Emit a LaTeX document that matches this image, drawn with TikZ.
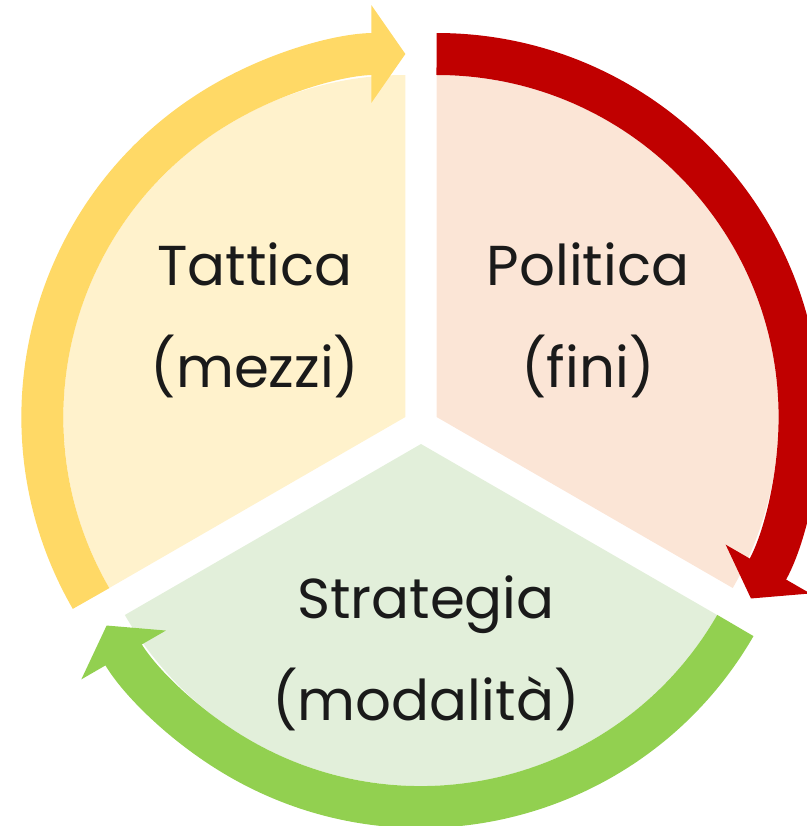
\documentclass[tikz,border=0pt]{standalone}
\usepackage{fontspec}
\setmainfont{Poppins}
\usepackage{tikz}
\usetikzlibrary{arrows.meta,calc}

\definecolor{tatticaband}{HTML}{FFD966}
\definecolor{tatticafill}{HTML}{FFF2CC}
\definecolor{politicaband}{HTML}{C00000}
\definecolor{politicafill}{HTML}{FBE5D6}
\definecolor{strategiaband}{HTML}{92D050}
\definecolor{strategiafill}{HTML}{E2EFDA}
\definecolor{labeltext}{HTML}{1A1A1A}

\begin{document}
\begin{tikzpicture}[x=0.02cm,y=0.02cm,
	sector/.style={draw=none},
	band/.style={line width=0.84cm,line cap=butt,-{Triangle[width=1.92cm,length=0.68cm]}},
	label/.style={text=labeltext,align=center,font=\fontsize{32}{58}\selectfont}]
	\useasboundingbox (-421,-400) rectangle (386,426);
	
	% sectors, pushed out from the centre
	\fill[tatticafill]   (150:18) -- ++(90:342) arc (90:210:342) -- cycle;
	\fill[politicafill]  (30:18)  -- ++(-30:342) arc (-30:90:342) -- cycle;
	\fill[strategiafill] (270:18) -- ++(210:342) arc (210:330:342) -- cycle;
	
	% arrows round the circle
	\draw[band,tatticaband]   ($(150:18)+(210:363)$) arc (210:90:363);
	\draw[band,politicaband]  ($(30:18)+(90:363)$)   arc (90:-30:363);
	\draw[band,strategiaband] ($(270:18)+(-30:363)$) arc (-30:-150:363);
	
	\node[label] (tattica)   at (-166,106) {Tattica\\(mezzi)};
	\node[label] (politica)  at (167,106)  {Politica\\(fini)};
	\node[label] (strategia) at (5,-227)   {Strategia\\(modalità)};
\end{tikzpicture}
\end{document}
